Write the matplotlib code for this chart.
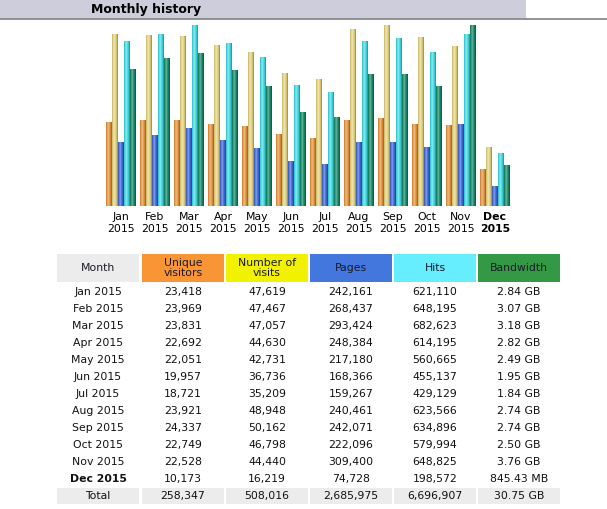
import matplotlib
matplotlib.use("Agg")
import matplotlib.pyplot as plt
import numpy as np
from matplotlib.colors import to_rgb

# data
months = ["Jan", "Feb", "Mar", "Apr", "May", "Jun", "Jul", "Aug", "Sep", "Oct", "Nov", "Dec"]
year = "2015"
visitors = [23418, 23969, 23831, 22692, 22051, 19957, 18721, 23921, 24337, 22749, 22528, 10173]
visits = [47619, 47467, 47057, 44630, 42731, 36736, 35209, 48948, 50162, 46798, 44440, 16219]
pages = [242161, 268437, 293424, 248384, 217180, 168366, 159267, 240461, 242071, 222096, 309400, 74728]
hits = [621110, 648195, 682623, 614195, 560665, 455137, 429129, 623566, 634896, 579994, 648825, 198572]
bandwidth_gb = [2.84, 3.07, 3.18, 2.82, 2.49, 1.95, 1.84, 2.74, 2.74, 2.50, 3.76, 0.84543]
bandwidth_labels = ["2.84 GB", "3.07 GB", "3.18 GB", "2.82 GB", "2.49 GB", "1.95 GB",
                    "1.84 GB", "2.74 GB", "2.74 GB", "2.50 GB", "3.76 GB", "845.43 MB"]
bandwidth_total = "30.75 GB"
headers = ["Month", "Unique\nvisitors", "Number of\nvisits", "Pages", "Hits", "Bandwidth"]
current_month = "Dec"

W, H = 607, 509
FONT = "DejaVu Sans"

# bar colours (base) and table header colours
bar_colors = ["#E8933A", "#E6D47C", "#3F66D8", "#3FDCE6", "#138A66"]
head_colors = ["#ECECEC", "#FA9535", "#F2F200", "#4477DD", "#66EEFF", "#339944"]

fig = plt.figure(figsize=(W / 100, H / 100), dpi=100)
bg = fig.add_axes([0, 0, 1, 1])
bg.set_xlim(0, W)
bg.set_ylim(H, 0)
bg.axis("off")

# title band
bg.add_patch(plt.Rectangle((0, 0), 526, 18.5, color="#CDCDDC", lw=0))
bg.plot([0, W], [19.2, 19.2], color="#8A8A8A", lw=1.3)
bg.text(91, 9.5, "Monthly history", fontsize=9, fontweight="bold", family=FONT,
        va="center", ha="left", color="#000000")

# ---- bar chart ----
pitch = 34
bw = 6
chart_left, chart_base, chart_h = 106, 206, 181
ax = fig.add_axes([chart_left / W, (H - chart_base) / H, 12 * pitch / W, chart_h / H])
ax.set_xlim(0, 12 * pitch)
ax.set_ylim(0, 1)
ax.axis("off")

# AWStats scales: visitors/visits share, pages/hits share, bandwidth alone
vmax = max(visits)
hmax = max(hits)
bmax = max(bandwidth_gb)
series = [
    np.array(visitors) / vmax,
    np.array(visits) / vmax,
    np.array(pages) / hmax,
    np.array(hits) / hmax,
    np.array(bandwidth_gb) / bmax,
]

t = np.linspace(0, 1, 24)
light = 0.35 * np.exp(-((t - 0.38) / 0.18) ** 2)
dark = 0.4 * (np.abs(t - 0.42) / 0.58) ** 3

x_groups = np.arange(12) * pitch
for j, (vals, col) in enumerate(zip(series, bar_colors)):
    base = np.array(to_rgb(col))
    grad = base[None, :] * (1 - light[:, None]) + light[:, None]
    grad = grad * (1 - dark[:, None])
    img = grad[None, :, :]
    bars = ax.bar(x_groups + j * bw, vals, width=bw, align="edge", color=col, lw=0)
    for b in bars:
        x0, h = b.get_x(), b.get_height()
        im = ax.imshow(img, extent=(x0, x0 + bw, 0, h), aspect="auto",
                       interpolation="bilinear", zorder=3)
        im.set_clip_path(b)

# month labels under chart
for i, m in enumerate(months):
    cx = chart_left + i * pitch + 2.5 * bw
    wt = "bold" if m == current_month else "normal"
    bg.text(cx, 216.5, m, fontsize=7.8, family=FONT, ha="center", va="center", fontweight=wt)
    bg.text(cx, 229.5, year, fontsize=7.8, family=FONT, ha="center", va="center", fontweight=wt)

# ---- table ----
col_x = [57, 142, 226, 310, 394, 478]
col_w = 82
for cx, hc, txt in zip(col_x, head_colors, headers):
    bg.add_patch(plt.Rectangle((cx, 254), col_w, 28, color=hc, lw=0))
    bg.text(cx + col_w / 2, 268, txt, fontsize=7.8, family=FONT, ha="center", va="center",
            color="#1A1A2A", linespacing=1.1)

fmt = lambda v: f"{v:,}"
row_y0, row_dy = 291.7, 17.03
for i, m in enumerate(months):
    y = row_y0 + i * row_dy
    wt = "bold" if m == current_month else "normal"
    cells = [f"{m} {year}", fmt(visitors[i]), fmt(visits[i]), fmt(pages[i]), fmt(hits[i]),
             bandwidth_labels[i]]
    for k, (cx, txt) in enumerate(zip(col_x, cells)):
        bg.text(cx + col_w / 2, y, txt, fontsize=7.8, family=FONT, ha="center", va="center",
                color="#111111", fontweight=wt if k == 0 else "normal")

totals = ["Total", fmt(sum(visitors)), fmt(sum(visits)), fmt(sum(pages)), fmt(sum(hits)),
          bandwidth_total]
for cx, txt in zip(col_x, totals):
    bg.add_patch(plt.Rectangle((cx, 488), col_w, 15.5, color="#ECECEC", lw=0))
    bg.text(cx + col_w / 2, 496, txt, fontsize=7.8, family=FONT, ha="center", va="center",
            color="#111111")

fig.savefig("out.png", dpi=100)
